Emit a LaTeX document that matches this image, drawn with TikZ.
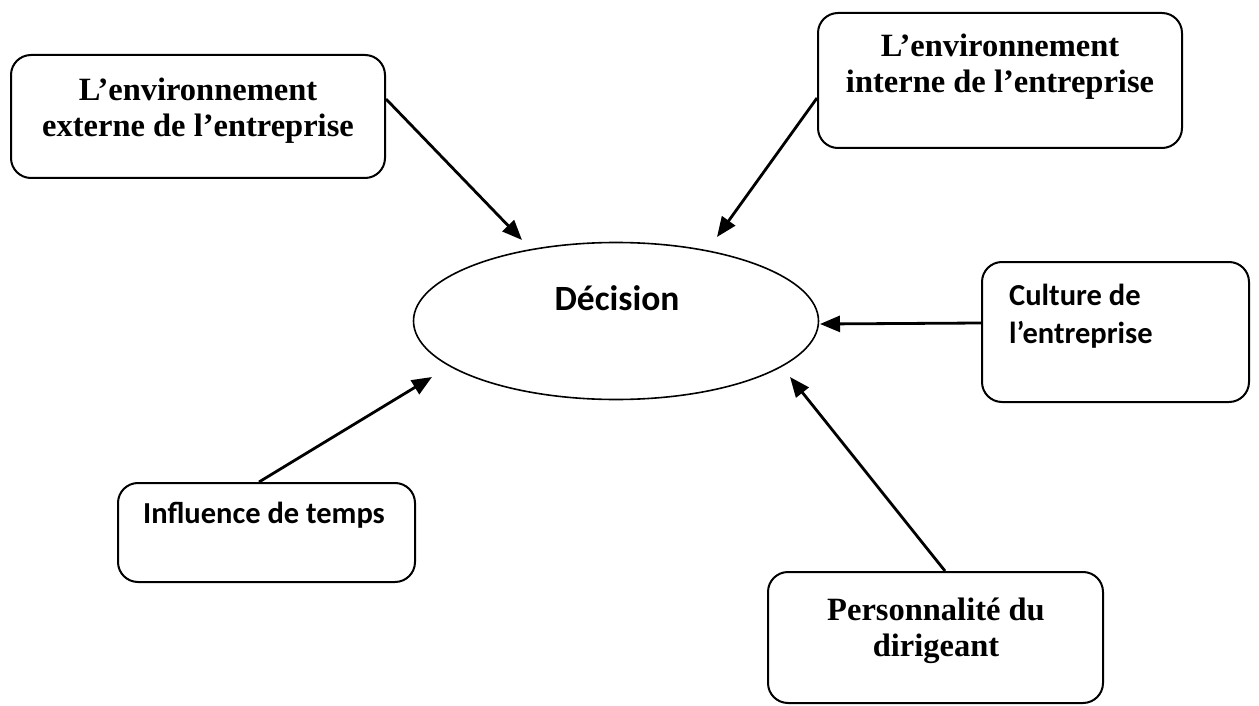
\documentclass[tikz,border=0pt]{standalone}
\usepackage{fontspec}
\setmainfont{Liberation Serif}
\newfontfamily\calib{Carlito}
\usetikzlibrary{shapes.geometric,arrows.meta}

\tikzset{
  frame/.style={draw, line width=2pt, rounded corners=20pt, inner sep=0pt, rectangle},
  serifbig/.style={font=\fontsize{32.5}{36}\selectfont\bfseries, inner sep=0pt},
  sansbig/.style={font=\fontsize{30.5}{38}\selectfont\calib\bfseries, inner sep=0pt},
  link/.style={line width=2.8pt, -{Triangle[length=20pt,width=16pt]}},
}

\begin{document}
\begin{tikzpicture}[x=1pt,y=-1pt]
\useasboundingbox (0,0) rectangle (1259,706);
\setlength{\tabcolsep}{0pt}

% central decision ellipse
\node[draw, ellipse, line width=1.6pt, minimum width=405pt, minimum height=157pt, inner sep=0pt] (dec) at (616,321) {};
\node[font=\fontsize{35.5}{40}\selectfont\calib\bfseries, inner sep=0pt, anchor=base] (decT) at (617,310) {Décision};

% surrounding factor boxes
\node[frame, minimum width=374pt, minimum height=123pt] (ext) at (198,116.5) {};
\node[serifbig, anchor=base] (extT) at (198,101)
  {\begin{tabular}[t]{c}L’environnement\\externe de l’entreprise\end{tabular}};

\node[frame, minimum width=364pt, minimum height=135pt] (int) at (1000,80.5) {};
\node[serifbig, anchor=base] (intT) at (1000,57)
  {\begin{tabular}[t]{c}L’environnement\\interne de l’entreprise\end{tabular}};

\node[frame, minimum width=267pt, minimum height=140pt] (cul) at (1115.5,332) {};
\node[sansbig, anchor=base west] (culT) at (1009,305)
  {\begin{tabular}[t]{l}Culture de\\l’entreprise\end{tabular}};

\node[frame, minimum width=297pt, minimum height=99pt] (inf) at (266.5,532.5) {};
\node[sansbig, anchor=base west] (infT) at (143,523) {Influence de temps};

\node[frame, minimum width=335pt, minimum height=131pt] (per) at (935.5,637.5) {};
\node[serifbig, anchor=base] (perT) at (936,620)
  {\begin{tabular}[t]{c}Personnalité du\\dirigeant\end{tabular}};

% arrow tips, stopping short of the ellipse
\coordinate (t1) at (522,240);
\coordinate (t2) at (717,237);
\coordinate (t3) at (820,324);
\coordinate (t4) at (432,377);
\coordinate (t5) at (790,377);

% influences pointing at the decision
\draw[link] ([yshift=17.5pt]ext.east) -- (t1);
\draw[link] ([yshift=-17.5pt]int.west) -- (t2);
\draw[link] ([yshift=9pt]cul.west) -- (t3);
\draw[link] ([xshift=-7.5pt]inf.north) -- (t4);
\draw[link] ([xshift=9.5pt]per.north) -- (t5);
\end{tikzpicture}
\end{document}
